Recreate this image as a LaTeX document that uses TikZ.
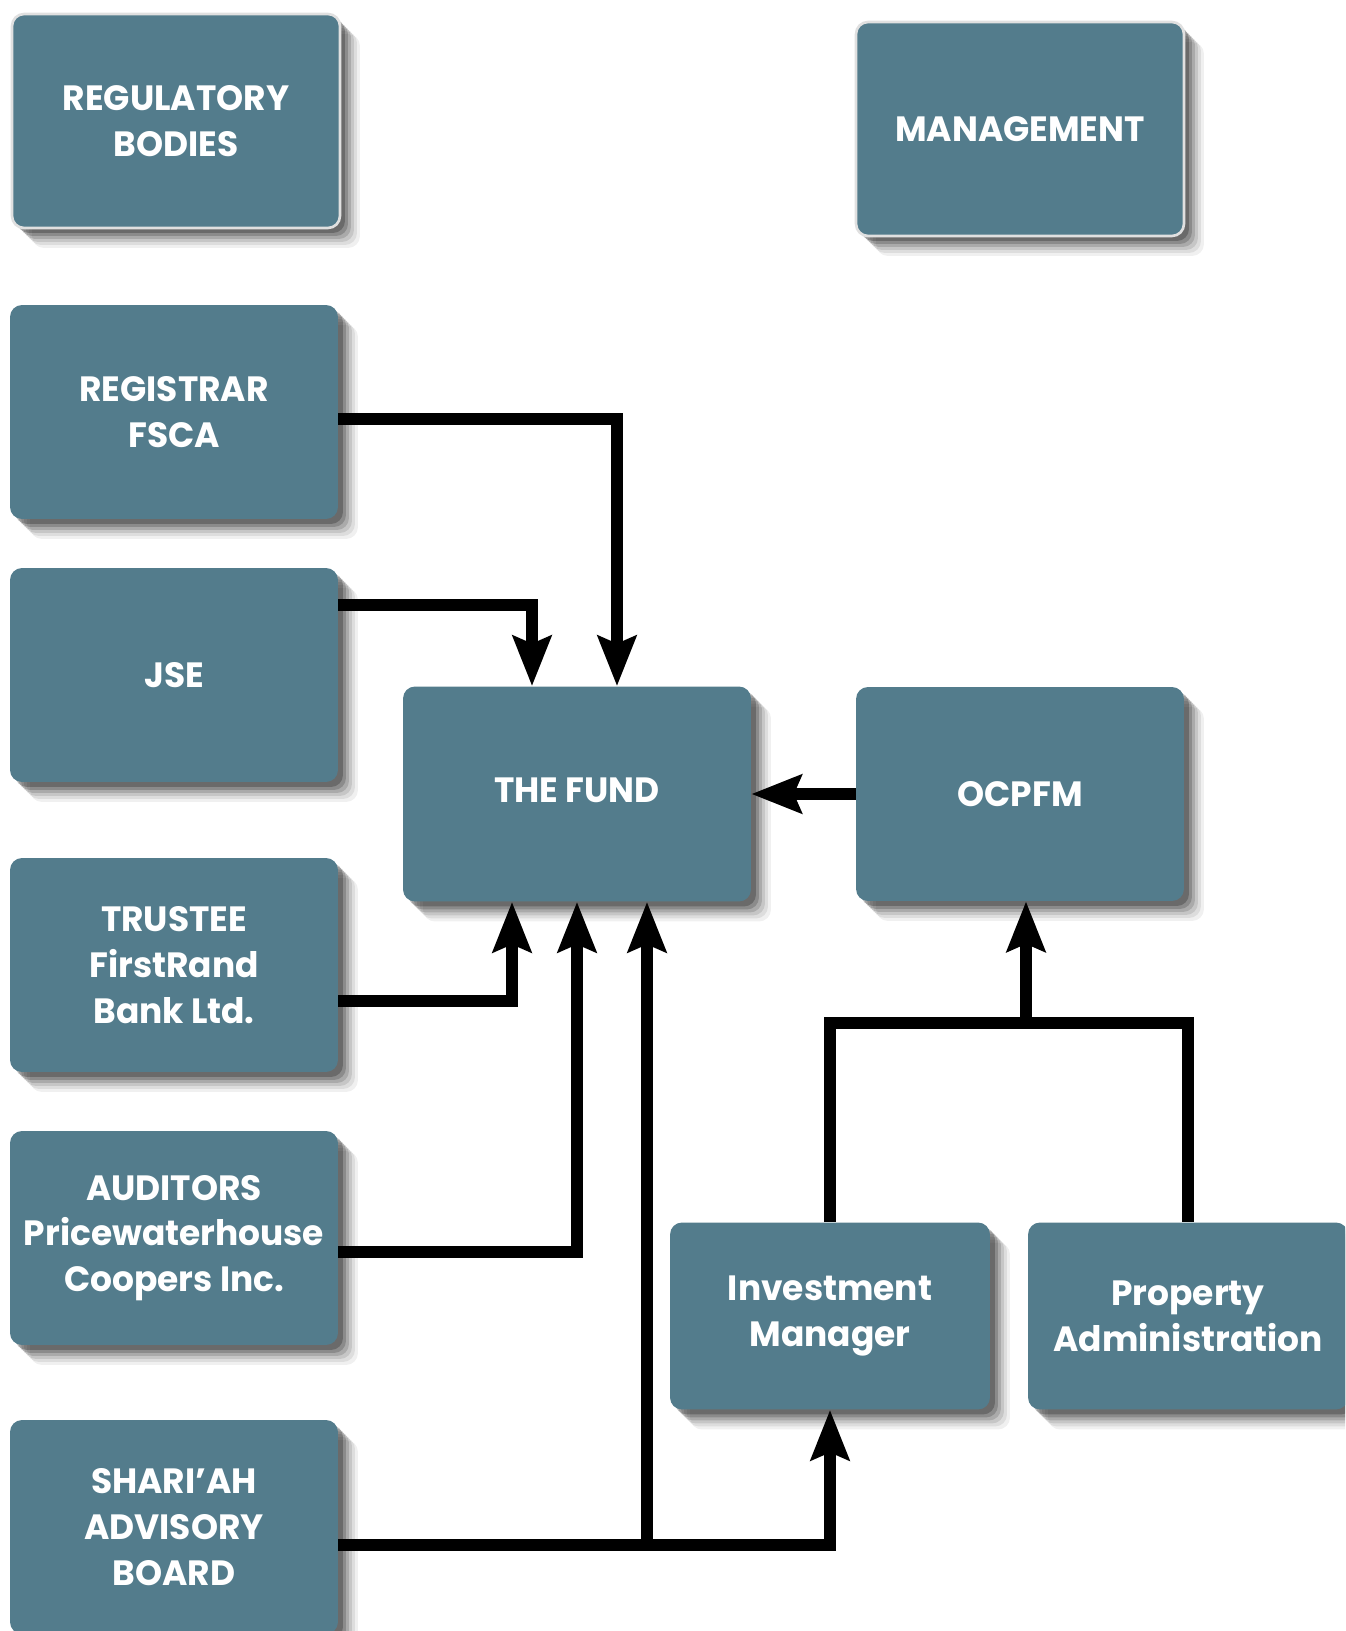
\documentclass[tikz,border=0pt]{standalone}
\usepackage{fontspec}
\usepackage{tikz}
\usetikzlibrary{positioning, shapes, calc, arrows.meta, shadows}
\newfontfamily\boxfont{Poppins}[FakeStretch=0.98]
\definecolor{fundblue}{RGB}{83,124,140}

\tikzset{
	softshadow/.style={
		general shadow={shadow xshift=0.40cm, shadow yshift=-0.40cm, fill=black, opacity=0.06},
		general shadow={shadow xshift=0.34cm, shadow yshift=-0.34cm, fill=black, opacity=0.08},
		general shadow={shadow xshift=0.28cm, shadow yshift=-0.28cm, fill=black, opacity=0.10},
		general shadow={shadow xshift=0.22cm, shadow yshift=-0.22cm, fill=black, opacity=0.14},
		general shadow={shadow xshift=0.16cm, shadow yshift=-0.16cm, fill=black, opacity=0.18},
		general shadow={shadow xshift=0.10cm, shadow yshift=-0.10cm, fill=black, opacity=0.24}},
	orgbox/.style={rectangle, rounded corners=0.24cm, fill=fundblue, text=white, align=center,
		inner sep=0pt, minimum width=6.56cm, minimum height=4.28cm, softshadow,
		font=\boxfont\bfseries\fontsize{20}{26}\selectfont},
	topbox/.style={orgbox, draw=black!12, line width=1.5pt},
	smallbox/.style={orgbox, minimum width=6.4cm, minimum height=3.74cm},
	joinline/.style={line width=0.24cm},
	link/.style={joinline, -{Stealth[length=1cm, width=0.76cm, inset=0.15cm]}}
}

\begin{document}
\begin{tikzpicture}[x=0.02cm, y=-0.02cm]
		\useasboundingbox (0,0) rectangle (1345,1631);
		\clip (0,0) rectangle (1345,1631);
		% boxes
		\node[topbox] (regbodies) at (176,121) {REGULATORY\\BODIES};
		\node[topbox] (mgmt) at (1020,129) {MANAGEMENT};
		\node[orgbox] (registrar) at (174,412) {REGISTRAR\\FSCA};
		\node[orgbox] (jse) at (174,675) {JSE};
		\node[orgbox, minimum width=6.96cm, minimum height=4.3cm] (fund) at (577,794) {\raisebox{0.16cm}{THE FUND}};
		\node[orgbox] (ocpfm) at (1020,794) {OCPFM};
		\node[orgbox] (trustee) at (174,965) {TRUSTEE\\FirstRand\\Bank Ltd.};
		\node[orgbox] (auditors) at (174,1238) {AUDITORS\\Pricewaterhouse\\Coopers Inc.};
		\node[orgbox] (shariah) at (174,1527) {SHARI’AH\\ADVISORY\\BOARD};
		\node[smallbox] (invman) at (830,1316) {Investment\\Manager};
		\node[smallbox] (propadmin) at (1188,1316) {Property\\Administration};
		% split points
		\coordinate (shariahsplit) at (647,1545);
		\coordinate (mgrsplit) at (1026,1023);
		% connectors
		\draw[link] ([yshift=-0.14cm]registrar.east) -| ([xshift=0.8cm]fund.north);
		\draw[link] ([yshift=1.4cm]jse.east) -| ([xshift=-0.9cm]fund.north);
		\draw[link] ([yshift=-0.71cm]trustee.east) -| ([xshift=-1.3cm]fund.south);
		\draw[link] ([yshift=-0.28cm]auditors.east) -| (fund.south);
		\draw[link] ([yshift=-0.36cm]shariah.east) -| (invman.south);
		\draw[link] (shariahsplit) -- (shariahsplit |- fund.south);
		\draw[link] (ocpfm.west) -- (fund.east);
		\draw[joinline] (invman.north) |- (mgrsplit) -| (propadmin.north);
		\draw[link] (mgrsplit) -- (mgrsplit |- ocpfm.south);
		\end{tikzpicture}
\end{document}
